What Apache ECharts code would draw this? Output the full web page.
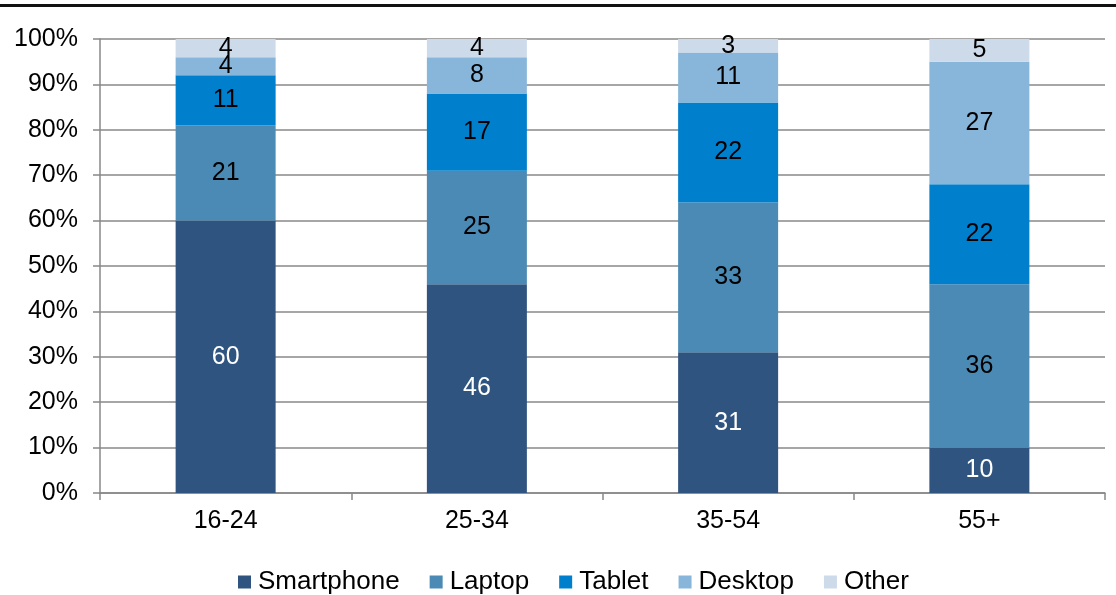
<!DOCTYPE html>
<html>
<head>
<meta charset="utf-8">
<script src="https://cdn.jsdelivr.net/npm/echarts@6/dist/echarts.min.js"></script>
<style>
  html, body { margin: 0; padding: 0; background: #fff; }
  #chart { width: 1116px; height: 595px; }
</style>
</head>
<body>
<div id="chart"></div>
<script>
const categories = ['16-24', '25-34', '35-54', '55+'];
const smartphone = [60, 46, 31, 10];
const laptop = [21, 25, 33, 36];
const tablet = [11, 17, 22, 22];
const desktop = [4, 8, 11, 27];
const other = [4, 4, 3, 5];

const chart = echarts.init(document.getElementById('chart'));
const font = '"Liberation Sans", Arial, sans-serif';

function bar(name, data, color, labelColor) {
  return {
    name: name,
    type: 'bar',
    stack: 'total',
    barWidth: 100,
    data: data,
    itemStyle: { color: color },
    label: {
      show: true,
      position: 'inside',
      color: labelColor,
      fontSize: 25,
      fontFamily: font
    },
    emphasis: { disabled: true }
  };
}

chart.setOption({
  animation: false,
  textStyle: { fontFamily: font },
  graphic: [{
    type: 'line',
    shape: { x1: 0, y1: 5.5, x2: 1116, y2: 5.5 },
    style: { stroke: '#111', lineWidth: 3 }
  }],
  grid: { left: 100, right: 11, top: 39, bottom: 102 },
  legend: {
    top: 564,
    left: 233,
    itemWidth: 13,
    itemHeight: 13,
    itemGap: 30,
    icon: 'rect',
    textStyle: { fontSize: 26, color: '#000', fontFamily: font, padding: [0, 0, 0, 2] },
    data: ['Smartphone', 'Laptop', 'Tablet', 'Desktop', 'Other']
  },
  xAxis: {
    type: 'category',
    data: categories,
    axisLine: { lineStyle: { color: '#888', width: 1.5 } },
    axisTick: { show: true, length: 7, lineStyle: { color: '#888', width: 1.5 } },
    axisLabel: { fontSize: 25, color: '#000', margin: 16, fontFamily: font }
  },
  yAxis: {
    type: 'value',
    min: 0,
    max: 100,
    interval: 10,
    axisLine: { show: true, lineStyle: { color: '#888', width: 1.5 } },
    axisTick: { show: true, length: 7, lineStyle: { color: '#888', width: 1.5 } },
    axisLabel: { fontSize: 25, color: '#000', margin: 22, formatter: '{value}%', fontFamily: font },
    splitLine: { lineStyle: { color: '#888', width: 1.5 } }
  },
  series: [
    bar('Smartphone', smartphone, '#2f5480', '#fff'),
    bar('Laptop', laptop, '#4a8ab5', '#000'),
    bar('Tablet', tablet, '#0080cc', '#000'),
    bar('Desktop', desktop, '#88b6da', '#000'),
    bar('Other', other, '#cddaea', '#000')
  ]
});
</script>
</body>
</html>
